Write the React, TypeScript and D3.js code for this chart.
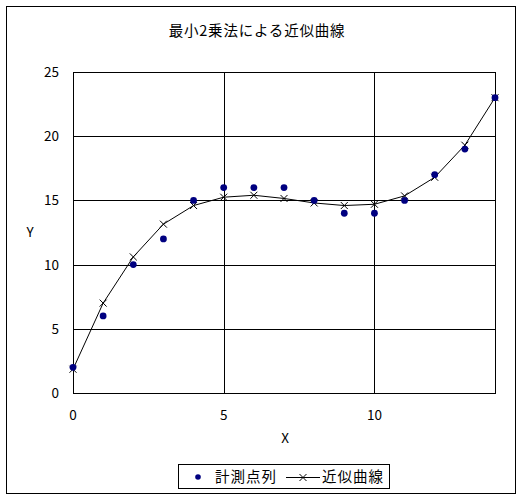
import { useEffect, useRef } from 'react';
import * as d3 from 'd3';

// measured points (x = 0..14)
const xs = [0, 1, 2, 3, 4, 5, 6, 7, 8, 9, 10, 11, 12, 13, 14];
const measured = [2, 6, 10, 12, 15, 16, 16, 16, 15, 14, 14, 15, 17, 19, 23];
// fitted curve values
const fitted = [1.85, 7.0, 10.6, 13.15, 14.6, 15.25, 15.4, 15.15, 14.8, 14.6, 14.7, 15.35, 16.8, 19.3, 23.0];

const xTicks = [0, 5, 10];
const yTicks = [0, 5, 10, 15, 20, 25];
const title = '最小2乗法による近似曲線';
const seriesNames = ['計測点列', '近似曲線'];

const W = 526, H = 498;
const FONT = '"Noto Sans CJK JP", "DejaVu Sans", sans-serif';

export default function App() {
  const ref = useRef<SVGSVGElement>(null);

  useEffect(() => {
    if (!ref.current) return;
    const svg = d3.select(ref.current);
    svg.selectAll('*').remove();

    const plot = { left: 73, right: 495, top: 72, bottom: 393 };
    const x = d3.scaleLinear().domain([0, 14]).range([plot.left, plot.right]);
    const y = d3.scaleLinear().domain([0, 25]).range([plot.bottom, plot.top]);

    svg.append('rect').attr('width', W).attr('height', H).attr('fill', '#fff');
    // outer frame
    svg.append('rect')
      .attr('x', 6.5).attr('y', 6.5).attr('width', 509).attr('height', 487)
      .attr('fill', 'none').attr('stroke', '#000').attr('stroke-width', 1);

    svg.append('text')
      .attr('x', 257).attr('y', 36)
      .attr('text-anchor', 'middle')
      .attr('font-family', FONT).attr('font-size', 14.5)
      .attr('letter-spacing', 0.8)
      .text(title);

    // gridlines
    const grid = svg.append('g').attr('stroke', '#000').attr('stroke-width', 1);
    yTicks.forEach(t => {
      grid.append('line')
        .attr('x1', plot.left).attr('x2', plot.right)
        .attr('y1', Math.round(y(t)) + 0.5).attr('y2', Math.round(y(t)) + 0.5);
    });
    xTicks.forEach(t => {
      grid.append('line')
        .attr('x1', Math.round(x(t)) + 0.5).attr('x2', Math.round(x(t)) + 0.5)
        .attr('y1', plot.top).attr('y2', plot.bottom);
    });
    svg.append('rect')
      .attr('x', plot.left + 0.5).attr('y', plot.top + 0.5)
      .attr('width', plot.right - plot.left).attr('height', plot.bottom - plot.top)
      .attr('fill', 'none').attr('stroke', '#000');

    // tick labels
    svg.append('g').selectAll('text').data(yTicks).enter().append('text')
      .attr('x', 59).attr('y', d => y(d) + 5)
      .attr('text-anchor', 'end')
      .attr('font-family', FONT).attr('font-size', 13.5)
      .text(d => d);
    svg.append('g').selectAll('text').data(xTicks).enter().append('text')
      .attr('x', d => x(d)).attr('y', 420)
      .attr('text-anchor', 'middle')
      .attr('font-family', FONT).attr('font-size', 13.5)
      .text(d => d);

    svg.append('text').attr('x', 285).attr('y', 443)
      .attr('text-anchor', 'middle').attr('font-family', FONT).attr('font-size', 13.5).text('X');
    svg.append('text').attr('x', 30).attr('y', 237)
      .attr('text-anchor', 'middle').attr('font-family', FONT).attr('font-size', 13.5).text('Y');

    // fitted line
    const line = d3.line<number>().x((_, i) => x(xs[i])).y(d => y(d));
    svg.append('path').datum(fitted)
      .attr('d', line)
      .attr('fill', 'none').attr('stroke', '#000').attr('stroke-width', 1);

    const cross = (g: d3.Selection<SVGGElement, unknown, null, undefined>, cx: number, cy: number) => {
      const s = 3.5;
      g.append('path')
        .attr('d', `M${cx - s},${cy - s}L${cx + s},${cy + s}M${cx - s},${cy + s}L${cx + s},${cy - s}`)
        .attr('stroke', '#000').attr('stroke-width', 1).attr('fill', 'none');
    };
    const crosses = svg.append('g');
    fitted.forEach((v, i) => cross(crosses, x(xs[i]), y(v)));

    // measured dots
    svg.append('g').selectAll('circle').data(measured).enter().append('circle')
      .attr('cx', (_, i) => x(xs[i])).attr('cy', d => y(d))
      .attr('r', 3.4).attr('fill', '#000080');

    // legend
    const lg = svg.append('g');
    lg.append('rect')
      .attr('x', 178.5).attr('y', 464.5).attr('width', 211).attr('height', 24)
      .attr('fill', '#fff').attr('stroke', '#000');
    lg.append('circle').attr('cx', 198).attr('cy', 477).attr('r', 2.8).attr('fill', '#000080');
    lg.append('text').attr('x', 215).attr('y', 482)
      .attr('font-family', FONT).attr('font-size', 14.5).attr('letter-spacing', 1)
      .text(seriesNames[0]);
    lg.append('line').attr('x1', 286).attr('x2', 320).attr('y1', 477.5).attr('y2', 477.5)
      .attr('stroke', '#000');
    cross(lg, 303, 477.5);
    lg.append('text').attr('x', 322).attr('y', 482)
      .attr('font-family', FONT).attr('font-size', 14.5).attr('letter-spacing', 1)
      .text(seriesNames[1]);
  }, []);

  return (
    <svg ref={ref} width={W} height={H}
      style={{ position: 'absolute', left: 0, top: 0, display: 'block' }} />
  );
}
